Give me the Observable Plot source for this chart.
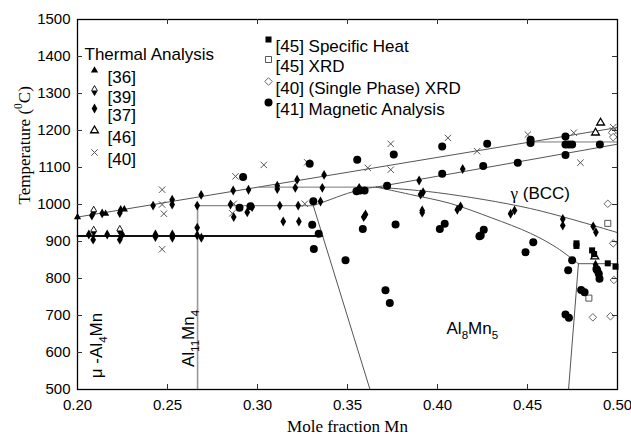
<!DOCTYPE html>
<html><head><meta charset="utf-8">
<script src="https://cdn.jsdelivr.net/npm/d3@7"></script>
<script src="https://cdn.jsdelivr.net/npm/@observablehq/plot@0.6"></script>
<style>body{margin:0;background:#fff}</style>
</head><body><div id="chart"></div>
<script>
// ---------- tick values ----------
const xTicks = [0.20, 0.25, 0.30, 0.35, 0.40, 0.45, 0.50];
const yTicks = [500, 600, 700, 800, 900, 1000, 1100, 1200, 1300, 1400, 1500];

// ---------- phase boundary lines (mole fraction Mn, temperature °C) ----------
const liquidusX = [0.200, 0.500];
const liquidusT = [966, 1208];
const eutecticX = [0.200, 0.336];
const eutecticT = [915, 915];
const al11VertX = [0.2667, 0.2667];
const al11VertT = [997, 500];
const peri1000X = [0.2667, 0.331];
const peri1000T = [997, 997];
const riseX = [0.331, 0.338, 0.350, 0.360, 0.366];
const riseT = [997, 1009, 1030, 1043, 1047];
const peri1047X = [0.301, 0.366];
const peri1047T = [1047, 1047];
const al8LeftX = [0.331, 0.3625];
const al8LeftT = [997, 500];
const solidusX = [0.366, 0.500];
const solidusT = [1047, 1163];
const upper1169X = [0.452, 0.500];
const upper1169T = [1169, 1169];
const gammaAX = [0.366, 0.400, 0.4517, 0.500];
const gammaAT = [1047, 1032, 989, 924];
const gammaBX = [0.366, 0.385, 0.407, 0.430, 0.4517, 0.466, 0.4783];
const gammaBT = [1047, 1027, 1003, 964, 922, 884, 840];
const h840X = [0.4783, 0.500];
const h840T = [840, 840];
const al8RightX = [0.4783, 0.4728];
const al8RightT = [840, 500];

// ---------- data series ----------
const s36X = [0.200, 0.2156, 0.226];
const s36T = [966, 975, 987];
const s39X = [0.209, 0.209, 0.2235];
const s39T = [982, 928, 930];
const s37X = [0.208, 0.2137, 0.2235, 0.224, 0.242, 0.2526, 0.2526, 0.2687, 0.2665, 0.2865, 0.295, 0.285, 0.2868, 0.2943, 0.297,
  0.311, 0.311, 0.322, 0.321, 0.337, 0.336, 0.3124, 0.3226, 0.335, 0.3143, 0.323, 0.3898, 0.3906, 0.392, 0.411, 0.360, 0.359,
  0.3915, 0.3915, 0.414, 0.4128, 0.4406, 0.4428, 0.4696, 0.4696, 0.4865, 0.488, 0.4878, 0.3565,
  0.2063, 0.2087, 0.2165, 0.2235, 0.2248, 0.2433, 0.2433, 0.2527, 0.2527, 0.2665, 0.2665, 0.2688];
const s37T = [970, 976, 977, 985, 997, 1013, 1000, 1026, 997, 1038, 1040, 1000, 966, 979, 993,
  1051, 1042, 1067, 1045, 1080, 1045, 997, 997, 1008, 954, 954, 1065, 1027, 1033, 986, 973, 966,
  984, 978, 1096, 995, 975, 984, 961, 943, 941, 925, 837, 1045,
  919, 905, 919, 905, 919, 919, 912, 919, 910, 937, 917, 910];
const s46X = [0.4906, 0.4878, 0.4874];
const s46T = [1221, 1194, 859];
const s40xX = [0.247, 0.247, 0.248, 0.247, 0.2878, 0.2868, 0.286, 0.3035, 0.3276, 0.3263, 0.3613, 0.374, 0.374,
  0.4058, 0.422, 0.4502, 0.4757, 0.4794, 0.4976, 0.4976];
const s40xT = [1040, 1000, 975, 879, 1076, 1002, 976, 1107, 1114, 1002, 1099, 1164, 1094,
  1180, 1144, 1189, 1194, 1113, 1209, 1200];
const s45shX = [0.4772, 0.4772, 0.4859, 0.487, 0.4946, 0.4989];
const s45shT = [895, 888, 876, 866, 841, 832];
const s45xrdX = [0.4946, 0.4841];
const s45xrdT = [949, 747];
const s40spX = [0.497, 0.4976, 0.4946, 0.4976, 0.498, 0.4863, 0.4961];
const s40spT = [1194, 1182, 1002, 895, 796, 695, 698];
const s41X = [0.292, 0.290, 0.2961, 0.329, 0.3554, 0.357, 0.355, 0.3595, 0.3757, 0.372, 0.4026, 0.4026, 0.331, 0.3304,
  0.334, 0.3313, 0.3489, 0.3585, 0.3767, 0.4013, 0.404, 0.3711, 0.3735, 0.4233, 0.4276, 0.4254, 0.4446, 0.4517,
  0.4517, 0.4711, 0.4711, 0.473, 0.4748, 0.4711, 0.4902, 0.4257, 0.424, 0.4532, 0.4489, 0.4748, 0.4726, 0.4883,
  0.4896, 0.4887, 0.490, 0.4798, 0.4817, 0.4711, 0.473];
const s41T = [1074, 991, 995, 1110, 1121, 1038, 1036, 1038, 1135, 1051, 1157, 1083, 1009, 945,
  921, 880, 849, 934, 946, 934, 948, 768, 734, 914, 1164, 1104, 1113, 1175,
  1166, 1184, 1162, 1162, 1162, 1134, 1162, 932, 916, 898, 871, 849, 822, 826,
  813, 822, 799, 769, 763, 703, 694];

// ---------- text ----------
const legendLeftTitle = "Thermal Analysis";
const legendLeftLabels = ["[36]", "[39]", "[37]", "[46]", "[40]"];
const legendRightLabels = ["[45] Specific Heat", "[45] XRD", "[40] (Single Phase) XRD", "[41] Magnetic Analysis"];
const regionLabels = ["~γ (BCC)", "Al_8Mn_5", "Al_11Mn_4", "μ -Al_4Mn"];
const regionX = [0.4406, 0.405, 0.2617, 0.2105];
const regionT = [1030, 665, 638, 619];
const xTitle = "Mole fraction Mn";
const yTitle = "Temperature (^0C)";

// ---------- helpers ----------
const rows = (xs, ts) => xs.map((x, i) => ({x, T: ts[i]}));
const lowerHalfDiamond = {
  draw(ctx, size) {
    const h = Math.sqrt(size / (2 * Math.tan(Math.PI / 6)));
    const w = h * Math.tan(Math.PI / 6);
    ctx.moveTo(-w, 0); ctx.lineTo(w, 0); ctx.lineTo(0, h); ctx.closePath();
  }
};
const styles = {
  s36: [{symbol: "triangle", r: 2.7, fill: "black"}],
  s39: [{symbol: "diamond", r: 3, fill: "white", stroke: "black", strokeWidth: 0.9}, {symbol: lowerHalfDiamond, r: 3, fill: "black"}],
  s37: [{symbol: "diamond", r: 3, fill: "black"}],
  s46: [{symbol: "triangle", r: 2.9, fill: "white", stroke: "black", strokeWidth: 1.3}],
  s40x: [{symbol: "times", r: 3, stroke: "#555", strokeWidth: 1}],
  s45sh: [{symbol: "square", r: 3.4, fill: "black"}],
  s45xrd: [{symbol: "square", r: 3.4, fill: "white", stroke: "#555", strokeWidth: 1}],
  s40sp: [{symbol: "diamond2", r: 3.4, fill: "white", stroke: "#666", strokeWidth: 1}],
  s41: [{symbol: "circle", r: 4, fill: "black"}]
};
const seriesData = {
  s36: rows(s36X, s36T), s39: rows(s39X, s39T), s37: rows(s37X, s37T), s46: rows(s46X, s46T),
  s40x: rows(s40xX, s40xT), s45sh: rows(s45shX, s45shT), s45xrd: rows(s45xrdX, s45xrdT),
  s40sp: rows(s40spX, s40spT), s41: rows(s41X, s41T)
};
const lineMark = (xs, ts, opts) => Plot.line(rows(xs, ts), {x: "x", y: "T", stroke: "#555", strokeWidth: 1, ...opts});

const marks = [];
// boundaries
marks.push(lineMark(liquidusX, liquidusT));
marks.push(lineMark(peri1047X, peri1047T, {stroke: "#777"}));
marks.push(lineMark(peri1000X, peri1000T, {stroke: "#888", strokeWidth: 1.3}));
marks.push(lineMark(al11VertX, al11VertT, {stroke: "#999", strokeWidth: 1.6}));
marks.push(lineMark(riseX, riseT, {curve: "catmull-rom"}));
marks.push(lineMark(al8LeftX, al8LeftT));
marks.push(lineMark(solidusX, solidusT));
marks.push(lineMark(upper1169X, upper1169T, {stroke: "#777"}));
marks.push(lineMark(gammaAX, gammaAT, {curve: "catmull-rom"}));
marks.push(lineMark(gammaBX, gammaBT, {curve: "catmull-rom"}));
marks.push(lineMark(h840X, h840T));
marks.push(lineMark(al8RightX, al8RightT));
marks.push(lineMark(eutecticX, eutecticT, {stroke: "#111", strokeWidth: 2}));

// data points
for (const key of ["s40x", "s40sp", "s45xrd", "s37", "s39", "s36", "s46", "s41", "s45sh"]) {
  for (const st of styles[key]) marks.push(Plot.dot(seriesData[key], {x: "x", y: "T", ...st}));
}

// frame, ticks, axes
marks.push(Plot.frame({stroke: "black", strokeWidth: 1.3}));
const innerX = xTicks.slice(1, -1), innerY = yTicks.slice(1, -1);
marks.push(Plot.ruleX(innerX, {x: d => d, insetTop: 365, stroke: "#333"}));
marks.push(Plot.ruleX(innerX, {x: d => d, insetBottom: 365, stroke: "#333"}));
marks.push(Plot.ruleY(innerY, {y: d => d, insetRight: 535, stroke: "#333"}));
marks.push(Plot.ruleY(innerY, {y: d => d, insetLeft: 535, stroke: "#333"}));
marks.push(Plot.axisX(xTicks, {tickSize: 0, tickPadding: 10, tickFormat: d3.format(".2f"), label: null, fontSize: 15}));
marks.push(Plot.axisY(yTicks, {tickSize: 0, tickPadding: 7, tickFormat: d3.format("d"), label: null, fontSize: 15}));

// axis titles
marks.push(Plot.text([xTitle], {text: d => d, frameAnchor: "bottom", dy: 42, fontFamily: "Liberation Serif, Times New Roman, serif", fontSize: 17}));
marks.push(Plot.text([yTitle], {text: d => d, frameAnchor: "left", dx: -53, rotate: -90, fontFamily: "Liberation Serif, Times New Roman, serif", fontSize: 17}));

// region labels
marks.push(Plot.text(regionLabels.slice(0, 2).map((t, i) => ({t, x: regionX[i], T: regionT[i]})),
  {x: "x", y: "T", text: "t", textAnchor: "start", fontSize: 17}));
marks.push(Plot.text(regionLabels.slice(2).map((t, i) => ({t, x: regionX[i + 2], T: regionT[i + 2]})),
  {x: "x", y: "T", text: "t", rotate: -90, fontSize: 17}));

// legend (pixel offsets from the plot frame's top-left)
marks.push(Plot.text([legendLeftTitle], {text: d => d, frameAnchor: "top-left", dx: 7, dy: 28, textAnchor: "start", fontSize: 17}));
const leftKeys = ["s36", "s39", "s37", "s46", "s40x"];
const leftDy = [51, 71, 89, 111, 133];
leftKeys.forEach((k, i) => {
  for (const st of styles[k]) marks.push(Plot.dot([0], {frameAnchor: "top-left", dx: 17, dy: leftDy[i], ...st}));
  marks.push(Plot.text([legendLeftLabels[i]], {text: d => d, frameAnchor: "top-left", dx: 30, dy: leftDy[i], textAnchor: "start", fontSize: 17}));
});
const rightKeys = ["s45sh", "s45xrd", "s40sp", "s41"];
const rightDy = [20, 40, 62, 83];
rightKeys.forEach((k, i) => {
  for (const st of styles[k]) marks.push(Plot.dot([0], {frameAnchor: "top-left", dx: 191, dy: rightDy[i], ...st}));
  marks.push(Plot.text([legendRightLabels[i]], {text: d => d, frameAnchor: "top-left", dx: 198, dy: rightDy[i], textAnchor: "start", fontSize: 17}));
});

const plot = Plot.plot({
  width: 631, height: 436,
  marginLeft: 77, marginRight: 14, marginTop: 19, marginBottom: 47,
  x: {domain: [0.2, 0.5]},
  y: {domain: [500, 1500]},
  style: {fontFamily: "Liberation Sans, Arial, sans-serif", fontSize: "15px", background: "white", color: "black"},
  marks
});

// rich text: _digits -> subscript, ^digits -> superscript, ~c -> serif glyph
function richify(svg) {
  svg.querySelectorAll("text").forEach(t => {
    const s = t.textContent;
    if (!/[_^~]/.test(s)) return;
    const fs = parseFloat(t.getAttribute("font-size") || getComputedStyle(t).fontSize) || 17;
    const parts = [];
    let i = 0;
    while (i < s.length) {
      const c = s[i];
      if (c === "_" || c === "^") {
        let j = i + 1;
        while (j < s.length && /[0-9]/.test(s[j])) j++;
        parts.push({t: s.slice(i + 1, j), k: c}); i = j;
      } else if (c === "~") {
        parts.push({t: s[i + 1], k: "~"}); i += 2;
      } else {
        let j = i;
        while (j < s.length && !"_^~".includes(s[j])) j++;
        parts.push({t: s.slice(i, j), k: ""}); i = j;
      }
    }
    const target = t.querySelector("tspan") || t;
    while (target.firstChild) target.removeChild(target.firstChild);
    let shift = 0;
    for (const p of parts) {
      const ts = document.createElementNS("http://www.w3.org/2000/svg", "tspan");
      const want = p.k === "_" ? fs * 0.3 : p.k === "^" ? -fs * 0.45 : 0;
      ts.setAttribute("dy", (want - shift).toFixed(2));
      shift = want;
      if (p.k === "_" || p.k === "^") ts.setAttribute("font-size", (fs * 0.68).toFixed(1));
      if (p.k === "~") ts.setAttribute("font-family", "Liberation Serif, Times New Roman, serif");
      ts.textContent = p.t;
      target.appendChild(ts);
    }
  });
}
richify(plot);
document.getElementById("chart").appendChild(plot);
</script></body></html>
